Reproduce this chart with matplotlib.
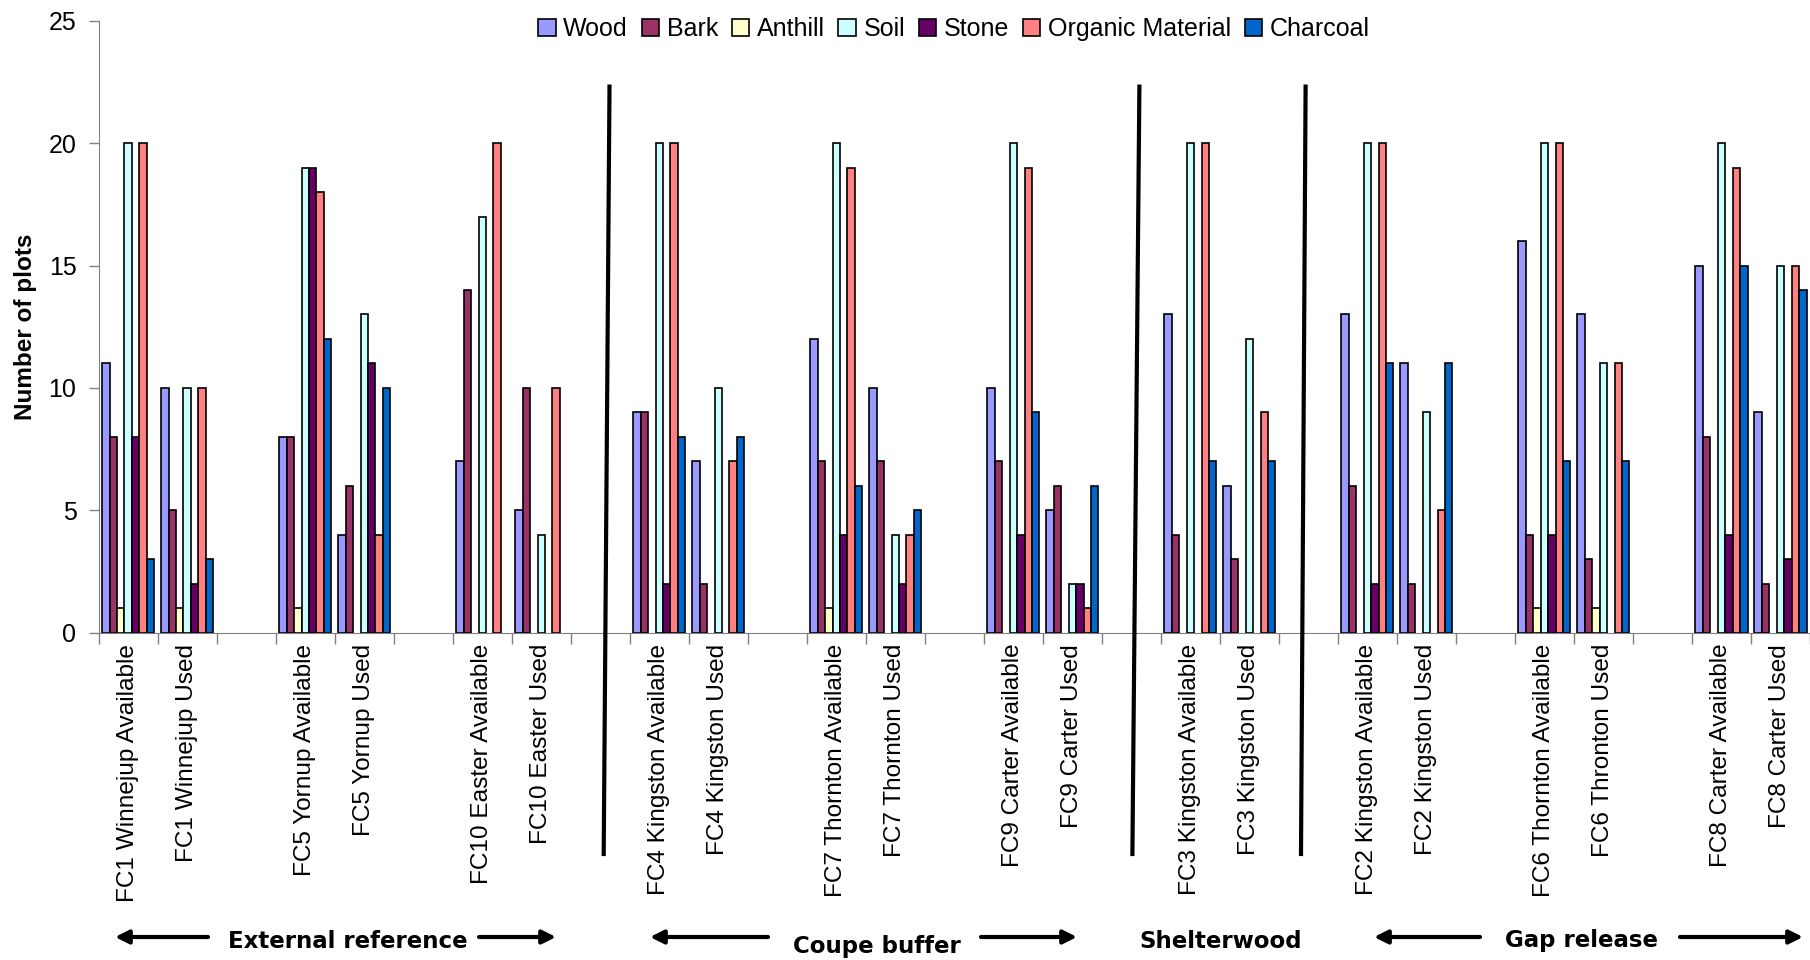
import numpy as np
import matplotlib
matplotlib.use('Agg')
import matplotlib.pyplot as plt
from matplotlib.lines import Line2D

plt.rcParams['font.family'] = ['Liberation Sans', 'DejaVu Sans']

# data: plots per site, pairs of available / used
sites = ['FC1 Winnejup Available', 'FC1 Winnejup Used',
         'FC5 Yornup Available', 'FC5 Yornup Used',
         'FC10 Easter Available', 'FC10 Easter Used',
         'FC4 Kingston Available', 'FC4 Kingston Used',
         'FC7 Thornton Available', 'FC7 Thornton Used',
         'FC9 Carter Available', 'FC9 Carter Used',
         'FC3 Kingston Available', 'FC3 Kingston Used',
         'FC2 Kingston Available', 'FC2 Kingston Used',
         'FC6 Thornton Available', 'FC6 Thronton Used',
         'FC8 Carter Available', 'FC8 Carter Used']

wood     = [11, 10, 8, 4, 7, 5, 9, 7, 12, 10, 10, 5, 13, 6, 13, 11, 16, 13, 15, 9]
bark     = [8, 5, 8, 6, 14, 10, 9, 2, 7, 7, 7, 6, 4, 3, 6, 2, 4, 3, 8, 2]
anthill  = [1, 1, 1, 0, 0, 0, 0, 0, 1, 0, 0, 0, 0, 0, 0, 0, 1, 1, 0, 0]
soil     = [20, 10, 19, 13, 17, 4, 20, 10, 20, 4, 20, 2, 20, 12, 20, 9, 20, 11, 20, 15]
stone    = [8, 2, 19, 11, 0, 0, 2, 0, 4, 2, 4, 2, 0, 0, 2, 0, 4, 0, 4, 3]
organic  = [20, 10, 18, 4, 20, 10, 20, 7, 19, 4, 19, 1, 20, 9, 20, 5, 20, 11, 19, 15]
charcoal = [3, 3, 12, 10, 0, 0, 8, 8, 6, 5, 9, 6, 7, 7, 11, 11, 7, 7, 15, 14]

series = ['Wood', 'Bark', 'Anthill', 'Soil', 'Stone', 'Organic Material', 'Charcoal']
values = [wood, bark, anthill, soil, stone, organic, charcoal]
colors = ['#9999FF', '#993366', '#FFFFCC', '#CCFFFF', '#660066', '#FF8080', '#0066CC']

groups = ['External reference', 'Coupe buffer', 'Shelterwood', 'Gap release']

# each pair followed by an empty slot
pos = np.array([3 * (i // 2) + (i % 2) for i in range(len(sites))])
nslots = pos[-1] + 1

fig = plt.figure(figsize=(18.1, 9.6), dpi=100)
ax = fig.add_axes([98.7 / 1810, 1 - 632.7 / 960, 1 - 98.7 / 1810, (632.7 - 20.7) / 960])

bw = 0.126
for k, (name, vals, c) in enumerate(zip(series, values, colors)):
    xs = pos + (k - 3) * bw
    bars = ax.bar(xs, vals, width=bw, color=c, edgecolor='black', linewidth=1.2, label=name)
    for b, v in zip(bars, vals):
        if v == 0:
            b.set_visible(False)

ax.set_xlim(-0.5, nslots - 0.5)
ax.set_ylim(0, 25)
ax.set_yticks(range(0, 26, 5))
ax.tick_params(axis='y', direction='out', length=7, width=1, color='#808080', labelsize=18, pad=9)

ax.set_xticks(pos)
ax.set_xticklabels(sites, rotation=90, fontsize=17.6)
ax.set_xticks(np.arange(-0.5, nslots, 1), minor=True)
ax.tick_params(axis='x', which='major', length=0, pad=8)
ax.tick_params(axis='x', which='minor', direction='out', length=8, width=1, color='#808080')

for s in ['top', 'right']:
    ax.spines[s].set_visible(False)
ax.spines['left'].set_color('#808080')
ax.spines['bottom'].set_color('#808080')

ax.set_ylabel('Number of plots', fontsize=17.5, fontweight='bold', va='center')
ax.yaxis.set_label_coords(-0.043, 0.5)

ax.legend(loc='center', bbox_to_anchor=(954 / 1810, 1 - 29 / 960), bbox_transform=fig.transFigure,
          ncol=7, frameon=False, fontsize=18, handlelength=0.7, handleheight=0.7,
          handletextpad=0.3, columnspacing=0.55, borderaxespad=0)

# treatment dividers (figure pixels)
def fpx(x, y):
    return x / 1810, 1 - y / 960

for (xt, xb) in [(609.5, 603.7), (1139.4, 1132.4), (1305.6, 1301.0)]:
    (x0, y0), (x1, y1) = fpx(xt, 86.6), fpx(xb, 854)
    fig.add_artist(Line2D([x0, x1], [y0, y1], transform=fig.transFigure, color='black', lw=3))

# group captions with arrows
label_x = [347.5, 877, 1221, 1581]
label_y = [941, 946, 941, 941]
arrows = [[(208, 115), (479, 556)], [(768, 650), (981, 1077)], [], [(1480, 1374), (1680, 1803)]]
arrow_y = [937, 937, 937, 937]
for g, lx, ly, arr, ay in zip(groups, label_x, label_y, arrows, arrow_y):
    fig.text(*fpx(lx, ly), g, ha='center', va='center', fontsize=16.5, fontweight='bold',
             family='DejaVu Sans')
    for (xs_, xe_) in arr:
        ax.annotate('', xy=fpx(xe_, ay), xytext=fpx(xs_, ay), xycoords='figure fraction',
                    textcoords='figure fraction',
                    arrowprops=dict(arrowstyle='-|>', lw=3, color='black', mutation_scale=20,
                                    shrinkA=0, shrinkB=0))

fig.savefig('out.png', dpi=100)
